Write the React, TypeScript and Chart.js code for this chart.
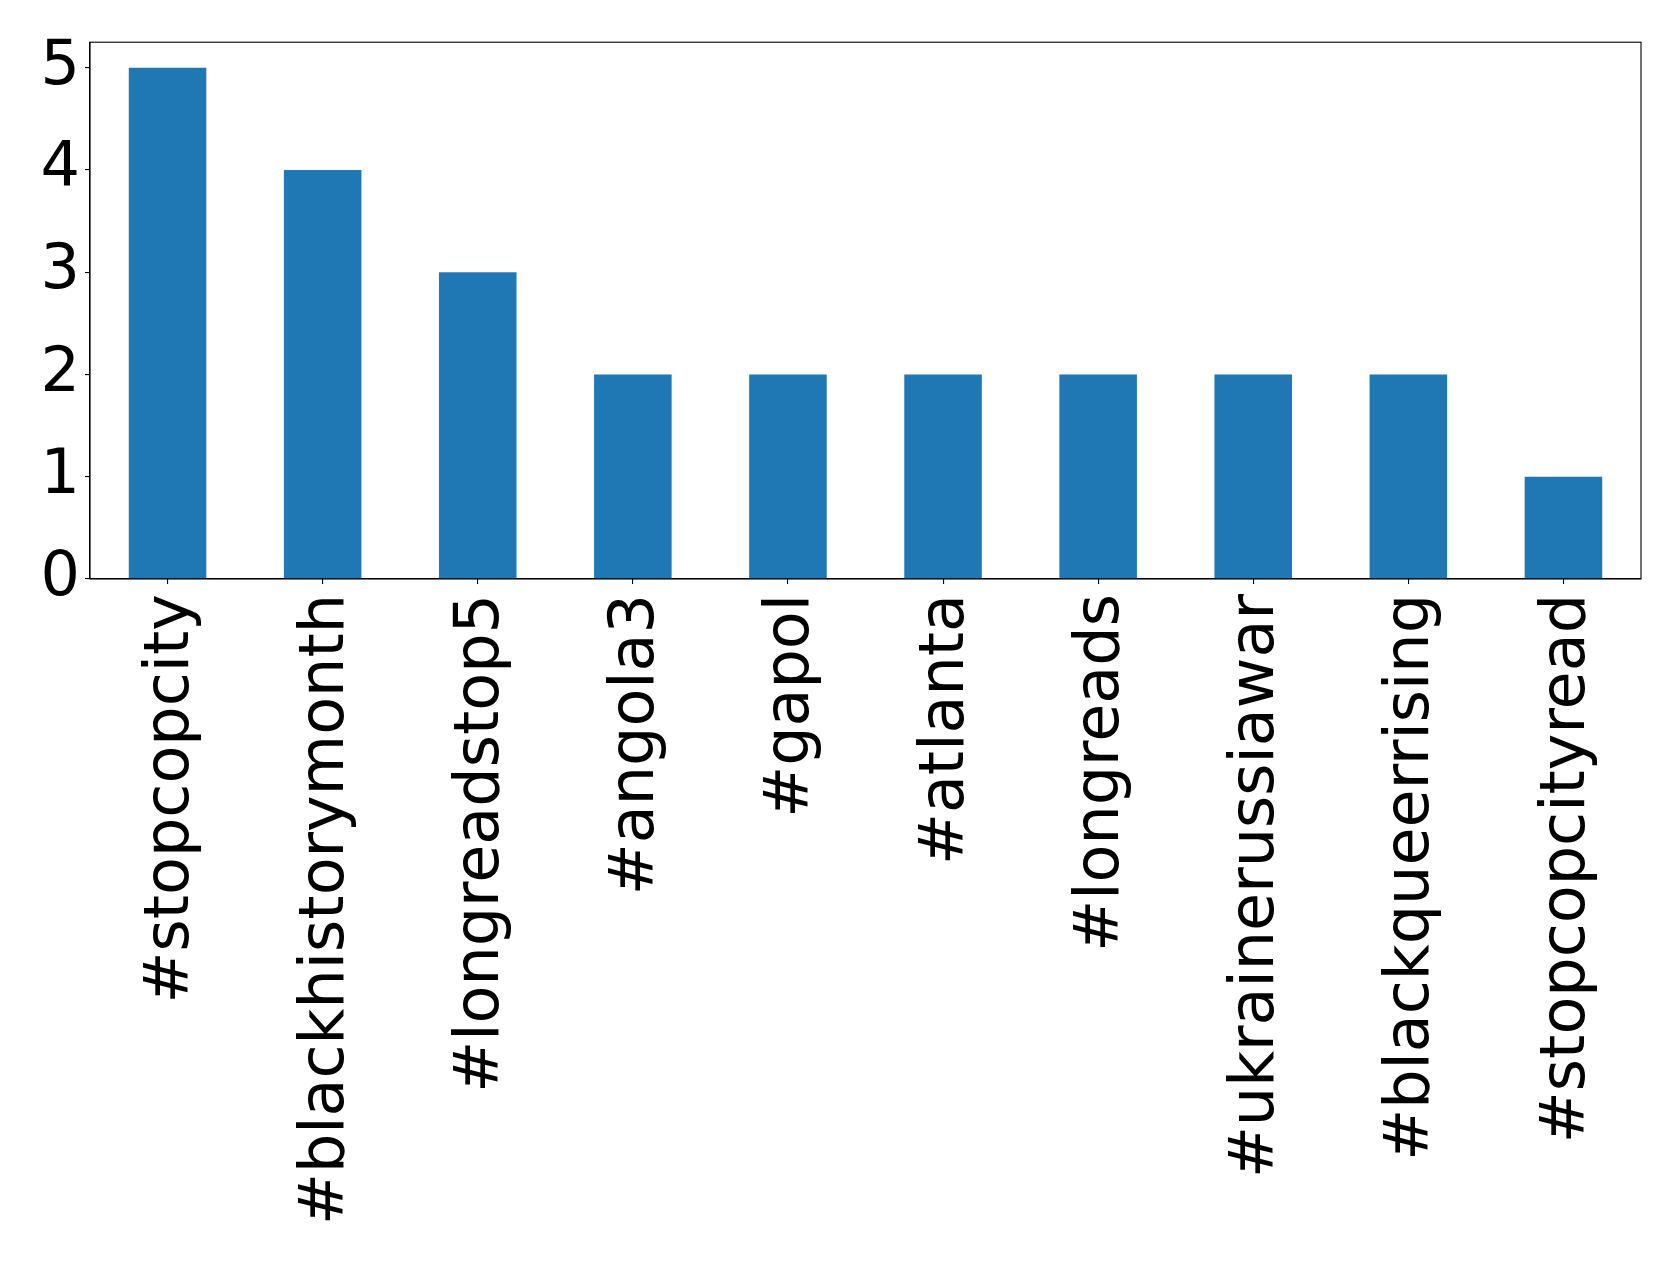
import React, { useEffect, useRef } from "react";
import { Chart, registerables } from "chart.js";

Chart.register(...registerables);

const categories = [
  "#stopcopcity",
  "#blackhistorymonth",
  "#longreadstop5",
  "#angola3",
  "#gapol",
  "#atlanta",
  "#longreads",
  "#ukrainerussiawar",
  "#blackqueerrising",
  "#stopcopcityread",
];
const counts = [5, 4, 3, 2, 2, 2, 2, 2, 2, 1];
const yTicks = [0, 1, 2, 3, 4, 5];

const W = 1679;
const H = 1264;
const FONT = "'DejaVu Sans', sans-serif";

const framePlugin = {
  id: "frame",
  afterDraw(chart: any) {
    const { ctx, chartArea } = chart;
    ctx.save();
    ctx.strokeStyle = "#000";
    ctx.lineWidth = 1.1;
    ctx.strokeRect(chartArea.left, chartArea.top, chartArea.right - chartArea.left, chartArea.bottom - chartArea.top);
    ctx.restore();
  },
};

export default function App() {
  const ref = useRef<HTMLCanvasElement>(null);
  useEffect(() => {
    if (!ref.current) return;
    const chart = new Chart(ref.current, {
      type: "bar",
      data: {
        labels: categories,
        datasets: [
          {
            data: counts,
            backgroundColor: "#1f77b4",
            barPercentage: 0.5,
            categoryPercentage: 1,
          },
        ],
      },
      options: {
        responsive: false,
        animation: false,
        devicePixelRatio: 1,
        layout: { padding: { left: 0, top: 40, right: 38, bottom: 0 } },
        plugins: { legend: { display: false }, tooltip: { enabled: false } },
        scales: {
          x: {
            type: "category",
            offset: true,
            grid: { display: true, offset: false, drawOnChartArea: false, drawTicks: true, tickLength: 5, tickColor: "#000", lineWidth: 1.1 },
            border: { display: true, color: "#000", width: 1.1 },
            ticks: {
              color: "#000",
              font: { family: FONT, size: 62 },
              maxRotation: 90,
              minRotation: 90,
              padding: 10,
              labelOffset: 4,
              autoSkip: false,
            },
            afterFit(scale: any) {
              scale.height = H - 579 - 0;
            },
          },
          y: {
            type: "linear",
            min: 0,
            max: 5.25,
            grid: { display: true, drawOnChartArea: false, drawTicks: true, tickLength: 5, tickColor: "#000", lineWidth: 1.1 },
            border: { display: true, color: "#000", width: 1.1 },
            afterBuildTicks(scale: any) {
              scale.ticks = yTicks.map((v) => ({ value: v }));
            },
            ticks: {
              color: "#000",
              font: { family: FONT, size: 62 },
              padding: 5,
              includeBounds: false,
              callback: (v: any) => String(v),
            },
            afterFit(scale: any) {
              scale.width = 90;
            },
          },
        },
      },
      plugins: [framePlugin],
    });
    return () => chart.destroy();
  }, []);
  return (
    <div style={{ position: "absolute", left: 0, top: 0, width: W, height: H, background: "#fff" }}>
      <canvas ref={ref} width={W} height={H} style={{ display: "block", width: W, height: H }} />
    </div>
  );
}
